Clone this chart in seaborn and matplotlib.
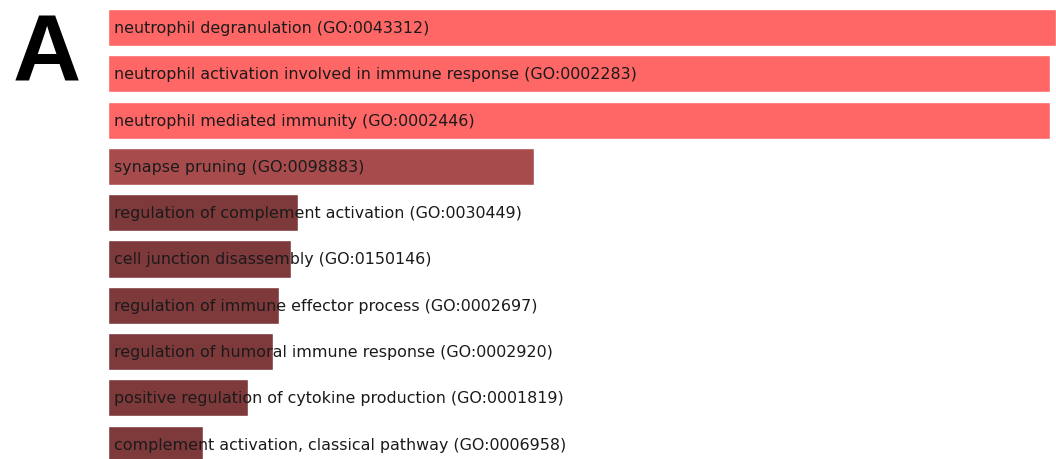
import matplotlib
matplotlib.use("Agg")
import matplotlib.pyplot as plt
import seaborn as sns
import pandas as pd

sns.set_theme(style="white")

# --- data (bar lengths, relative score) ---
terms = [
    "neutrophil degranulation (GO:0043312)",
    "neutrophil activation involved in immune response (GO:0002283)",
    "neutrophil mediated immunity (GO:0002446)",
    "synapse pruning (GO:0098883)",
    "regulation of complement activation (GO:0030449)",
    "cell junction disassembly (GO:0150146)",
    "regulation of immune effector process (GO:0002697)",
    "regulation of humoral immune response (GO:0002920)",
    "positive regulation of cytokine production (GO:0001819)",
    "complement activation, classical pathway (GO:0006958)",
]
scores = [10.0, 9.94, 9.94, 4.49, 2.00, 1.93, 1.80, 1.74, 1.48, 1.00]
level = ["top", "top", "top", "mid", "low", "low", "low", "low", "low", "low"]

colors = {"top": "#FF6666", "mid": "#A84B4D", "low": "#7E393B"}

df = pd.DataFrame({"term": terms, "score": scores, "level": level})

fig = plt.figure(figsize=(10.56, 4.6), dpi=100)
ax = fig.add_axes([108 / 1056, 0, 948 / 1056, 1])

sns.barplot(data=df, y="term", x="score", hue="level", palette=colors,
            orient="h", width=0.8, dodge=False, legend=False,
            saturation=1, ax=ax)

ax.set_xlim(0, 10.0)
ax.set_ylim(9.32, -0.616)

for i, t in enumerate(terms):
    ax.text(0.06, i, t, va="center", ha="left", fontsize=11.4,
            color="#1a1a1a", family="DejaVu Sans")

ax.set_axis_off()

fig.text(13 / 1056, 1 - 57 / 460, "A", fontsize=68, fontweight="bold",
         family="Liberation Sans", va="center", ha="left", color="black")

fig.savefig("out.png", dpi=100)
